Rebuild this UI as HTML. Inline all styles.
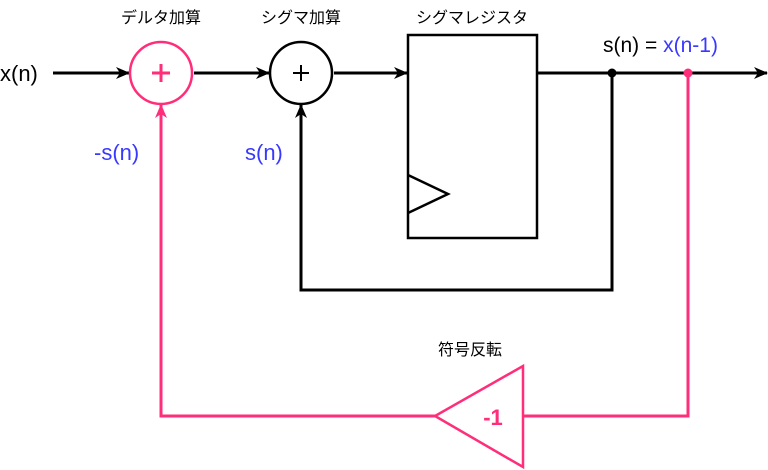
<!DOCTYPE html>
<html><head><meta charset="utf-8"><style>
html,body{margin:0;padding:0;background:#fff;}
svg{display:block;}
text{font-family:"Liberation Sans","Noto Sans CJK JP",sans-serif;}
</style></head><body>
<svg width="768" height="470" viewBox="0 0 768 470" xmlns="http://www.w3.org/2000/svg">
<defs>
<marker id="ab" markerWidth="14" markerHeight="12" refX="13" refY="6" orient="auto" markerUnits="userSpaceOnUse"><path d="M0,0 L14,6 L0,12 L4,6 Z" fill="#000"/></marker>
<marker id="ap" markerWidth="14" markerHeight="12" refX="13" refY="6" orient="auto" markerUnits="userSpaceOnUse"><path d="M0,0 L14,6 L0,12 L4,6 Z" fill="#ff2d7a"/></marker>
</defs>
<g stroke="#000" stroke-width="3" fill="none">
<line x1="53" y1="73" x2="129" y2="73" marker-end="url(#ab)"/>
<line x1="194" y1="73" x2="269" y2="73" marker-end="url(#ab)"/>
<line x1="334" y1="73" x2="407" y2="73" marker-end="url(#ab)"/>
<line x1="537" y1="73" x2="767" y2="73" marker-end="url(#ab)"/>
<circle cx="301" cy="73" r="31" stroke-width="2.5"/>
<rect x="408" y="35" width="129" height="203" stroke-width="2.5"/>
<polyline points="408,175 448,194 408,213" stroke-width="2.5"/>
<polyline points="612,73 612,290 301,290 301,105" marker-end="url(#ab)"/>
</g>
<g stroke="#000" stroke-width="2">
<line x1="293" y1="73" x2="309" y2="73"/><line x1="301" y1="65" x2="301" y2="81"/>
</g>
<circle cx="612" cy="73" r="4.5" fill="#000"/>
<g stroke="#ff2d7a" stroke-width="3" fill="none">
<circle cx="161" cy="73" r="31" stroke-width="2.5"/>
<polyline points="688,73 688,416 523,416"/>
<polygon points="523,366 523,467 435,416" stroke-width="2.5"/>
<polyline points="435,416 161,416 161,105" marker-end="url(#ap)"/>
<line x1="152" y1="73" x2="170" y2="73"/><line x1="161" y1="64" x2="161" y2="82"/>
</g>
<circle cx="688" cy="73" r="4.5" fill="#ff2d7a"/>
<text x="0" y="81" font-size="22">x(n)</text>
<text x="161" y="23" font-size="16" text-anchor="middle">デルタ加算</text>
<text x="301" y="23" font-size="16" text-anchor="middle">シグマ加算</text>
<text x="472" y="23" font-size="16" text-anchor="middle">シグマレジスタ</text>
<text x="603" y="52" font-size="21">s(n) = <tspan fill="#3838ff">x(n-1)</tspan></text>
<text x="94" y="160" font-size="22" fill="#3838ff">-s(n)</text>
<text x="245" y="160" font-size="22" fill="#3838ff">s(n)</text>
<text x="470" y="355" font-size="16" text-anchor="middle">符号反転</text>
<text x="493" y="425" font-size="22" font-weight="bold" fill="#ff2d7a" text-anchor="middle">-1</text>
</svg>
</body></html>
